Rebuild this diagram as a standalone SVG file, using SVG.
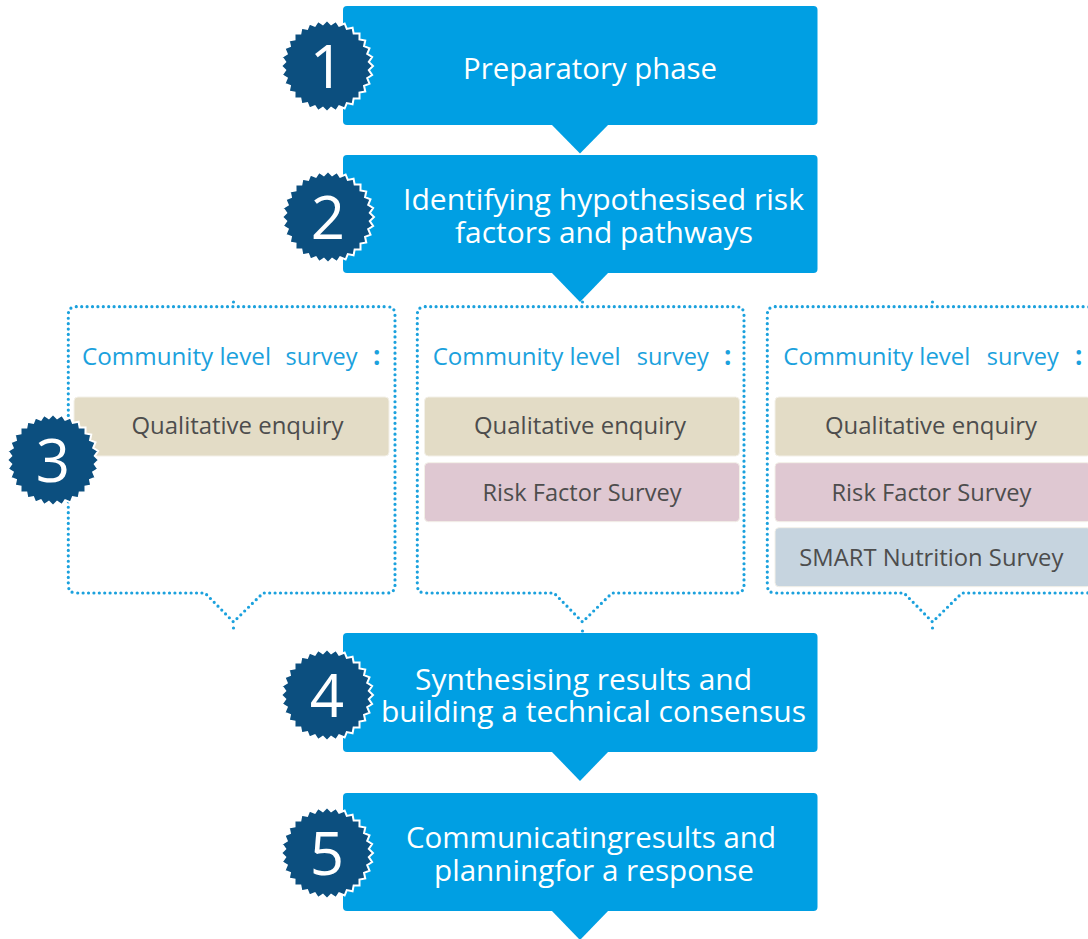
<svg xmlns="http://www.w3.org/2000/svg" xmlns:xlink="http://www.w3.org/1999/xlink" width="1088" height="939" viewBox="0 0 1088 939">
<style>
.box{fill:#009fe3}
.badge{fill:#0c4f7f;stroke:#ffffff;stroke-width:2}
.num{fill:#ffffff;font-family:"Open Sans","Noto Sans",sans-serif;font-size:60px;text-anchor:middle}
.main{fill:#ffffff;font-family:"Open Sans","Noto Sans",sans-serif;font-size:30px}
.dot{fill:none;stroke:#1ba1dd;stroke-width:3.2;stroke-dasharray:0 5.4;stroke-linecap:round}
.dotpt{fill:#1ba1dd}
.lbl{fill:#1ba1dd;font-family:"Open Sans","Noto Sans",sans-serif;font-size:24px}
.colon{font-weight:bold;font-size:26px}
.bar{stroke:#f3f0e8;stroke-width:1}
.q{fill:#e3dcc6}
.r{fill:#dfc8d2}
.s{fill:#c6d4df}
.bt{fill:#4d4d4d;font-family:"Open Sans","Noto Sans",sans-serif;font-size:24px;text-anchor:middle}
.arrow{fill:#009fe3}
</style>
<defs>
<polygon id="star" points="46,0 41.8,4.12 45.12,8.97 40.19,12.19 42.5,17.6 37.04,19.8 38.25,25.56 32.47,26.64 32.53,32.53 26.64,32.47 25.56,38.25 19.8,37.04 17.6,42.5 12.19,40.19 8.97,45.12 4.12,41.8 0,46 -4.12,41.8 -8.97,45.12 -12.19,40.19 -17.6,42.5 -19.8,37.04 -25.56,38.25 -26.64,32.47 -32.53,32.53 -32.47,26.64 -38.25,25.56 -37.04,19.8 -42.5,17.6 -40.19,12.19 -45.12,8.97 -41.8,4.12 -46,0 -41.8,-4.12 -45.12,-8.97 -40.19,-12.19 -42.5,-17.6 -37.04,-19.8 -38.25,-25.56 -32.47,-26.64 -32.53,-32.53 -26.64,-32.47 -25.56,-38.25 -19.8,-37.04 -17.6,-42.5 -12.19,-40.19 -8.97,-45.12 -4.12,-41.8 0,-46 4.12,-41.8 8.97,-45.12 12.19,-40.19 17.6,-42.5 19.8,-37.04 25.56,-38.25 26.64,-32.47 32.53,-32.53 32.47,-26.64 38.25,-25.56 37.04,-19.8 42.5,-17.6 40.19,-12.19 45.12,-8.97 41.8,-4.12"/>
<path id="callout" d="M76.3 306.7 H387 Q395 306.7 395 314.7 V585 Q395 593 387 593 H263 L233.5 622 L205 593 H76.3 Q68.3 593 68.3 585 V314.7 Q68.3 306.7 76.3 306.7 Z"/>
</defs>

<g id="connectors">
<polygon class="arrow" points="551,124 609,124 580,153.5"/>
<polygon class="arrow" points="551,272 609,272 580,302"/>
<polygon class="arrow" points="551,751 609,751 580,781"/>
<polygon class="arrow" points="551,910 609,910 580,940"/>
<circle class="dotpt" cx="233.5" cy="302" r="1.6"/>
<circle class="dotpt" cx="233.5" cy="628" r="1.6"/>
<circle class="dotpt" cx="582.5" cy="302" r="1.6"/>
<circle class="dotpt" cx="582.5" cy="631" r="1.6"/>
<circle class="dotpt" cx="932.5" cy="302" r="1.6"/>
<circle class="dotpt" cx="932.5" cy="628" r="1.6"/>
</g>

<g id="step1">
<rect class="box" x="343" y="6" width="474.5" height="119" rx="4"/>
<text class="main" x="463" y="79" textLength="254" lengthAdjust="spacingAndGlyphs">Preparatory phase</text>
<use xlink:href="#star" class="badge" x="327" y="66"/>
<text class="num" x="327" y="88">1</text>
</g>

<g id="step2">
<rect class="box" x="343" y="155" width="474.5" height="118" rx="4"/>
<text class="main" x="403" y="210" textLength="401" lengthAdjust="spacingAndGlyphs">Identifying hypothesised risk</text>
<text class="main" x="455" y="243" textLength="298" lengthAdjust="spacingAndGlyphs">factors and pathways</text>
<use xlink:href="#star" class="badge" x="328" y="217"/>
<text class="num" x="328" y="239">2</text>
</g>

<g id="col1">
<use xlink:href="#callout" class="dot"/>
<text class="lbl" y="365"><tspan x="82" textLength="189" lengthAdjust="spacingAndGlyphs">Community level</tspan><tspan x="285.5" textLength="72" lengthAdjust="spacingAndGlyphs">survey</tspan><tspan class="colon" x="373">:</tspan></text>
<rect class="bar q" x="74" y="397" width="315" height="59" rx="4"/>
<text class="bt" x="237.5" y="434" textLength="212" lengthAdjust="spacingAndGlyphs">Qualitative enquiry</text>
</g>

<g id="col2">
<use xlink:href="#callout" class="dot" x="349"/>
<text class="lbl" y="365"><tspan x="432.7" textLength="188" lengthAdjust="spacingAndGlyphs">Community level</tspan><tspan x="636.7" textLength="72" lengthAdjust="spacingAndGlyphs">survey</tspan><tspan class="colon" x="724">:</tspan></text>
<rect class="bar q" x="424.5" y="397" width="315" height="59" rx="4"/>
<text class="bt" x="580" y="434" textLength="212" lengthAdjust="spacingAndGlyphs">Qualitative enquiry</text>
<rect class="bar r" x="424.5" y="462.7" width="315" height="59" rx="4"/>
<text class="bt" x="582" y="501" textLength="199" lengthAdjust="spacingAndGlyphs">Risk Factor Survey</text>
</g>

<g id="col3">
<use xlink:href="#callout" class="dot" x="699"/>
<text class="lbl" y="365"><tspan x="783.3" textLength="187" lengthAdjust="spacingAndGlyphs">Community level</tspan><tspan x="986.7" textLength="72" lengthAdjust="spacingAndGlyphs">survey</tspan><tspan class="colon" x="1075">:</tspan></text>
<rect class="bar q" x="775" y="397" width="316" height="59" rx="4"/>
<text class="bt" x="931" y="434" textLength="212" lengthAdjust="spacingAndGlyphs">Qualitative enquiry</text>
<rect class="bar r" x="775" y="462.7" width="316" height="59" rx="4"/>
<text class="bt" x="931.5" y="501" textLength="200" lengthAdjust="spacingAndGlyphs">Risk Factor Survey</text>
<rect class="bar s" x="775" y="527.7" width="316" height="59" rx="4"/>
<text class="bt" x="931.3" y="566" textLength="264" lengthAdjust="spacingAndGlyphs">SMART Nutrition Survey</text>
</g>

<g id="step3">
<use xlink:href="#star" class="badge" x="53" y="460"/>
<text class="num" x="53" y="482">3</text>
</g>

<g id="step4">
<rect class="box" x="343" y="633" width="474.5" height="119" rx="4"/>
<text class="main" x="415" y="690" textLength="337" lengthAdjust="spacingAndGlyphs">Synthesising results and</text>
<text class="main" x="381" y="722" textLength="425" lengthAdjust="spacingAndGlyphs">building a technical consensus</text>
<use xlink:href="#star" class="badge" x="327" y="695"/>
<text class="num" x="327" y="717">4</text>
</g>

<g id="step5">
<rect class="box" x="343" y="793" width="474.5" height="118" rx="4"/>
<text class="main" x="406" y="848" textLength="370" lengthAdjust="spacingAndGlyphs">Communicatingresults and</text>
<text class="main" x="434" y="881" textLength="320" lengthAdjust="spacingAndGlyphs">planningfor a response</text>
<use xlink:href="#star" class="badge" x="327" y="853"/>
<text class="num" x="327" y="875">5</text>
</g>
</svg>
